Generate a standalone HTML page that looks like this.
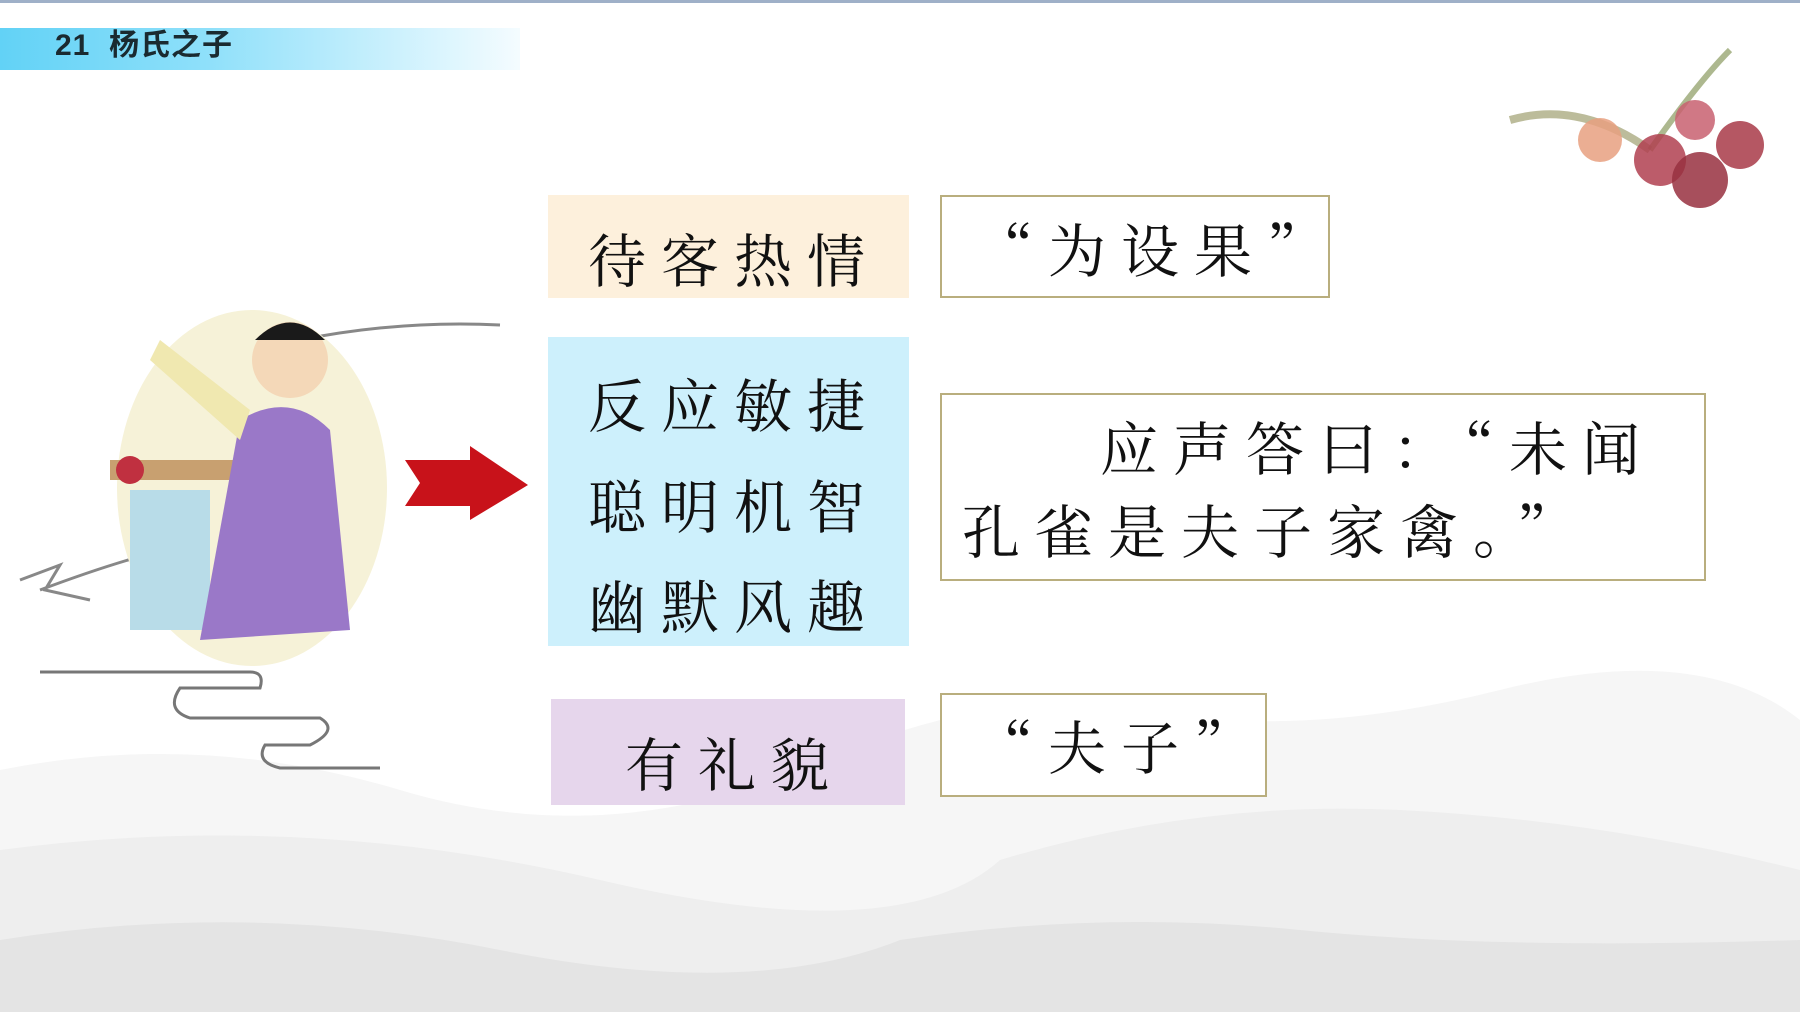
<!DOCTYPE html>
<html><head><meta charset="utf-8"><style>
body{margin:0}
#c{position:relative;width:1800px;height:1012px;overflow:hidden;background:#fff;font-family:"Noto Serif CJK SC","Liberation Serif",serif}
.b{position:absolute;box-sizing:border-box}
.t{position:absolute;white-space:nowrap;color:#111;font-size:58px;letter-spacing:15px;line-height:1}
.q{border:2px solid #b9ae7e;background:#fff}
</style></head><body><div id="c">
<div class="b" style="left:0;top:0;width:1800px;height:3px;background:#9fb0c8"></div>
<div class="b" style="left:0;top:28px;width:520px;height:42px;background:linear-gradient(90deg,#62d2f6 0%,#8fe0fa 40%,rgba(220,245,255,0.3) 100%)"></div>
<div class="t" style="left:55px;top:31px;font-size:30px;letter-spacing:1px;font-weight:bold;font-family:'Liberation Sans','Noto Sans CJK SC',sans-serif;color:#1a2a30">21&nbsp;&nbsp;杨氏之子</div>
<svg class="b" style="left:0;top:620px" width="1800" height="392">
<path d="M0 150 Q200 110 400 170 T800 150 Q1000 60 1150 90 T1500 70 T1800 100 V392 H0Z" fill="#f6f6f6"/>
<path d="M0 230 Q300 190 600 260 T1000 240 Q1200 180 1400 190 T1800 250 V392 H0Z" fill="#eeeeee"/>
<path d="M0 320 Q250 280 500 330 T900 320 Q1100 290 1300 310 T1800 320 V392 H0Z" fill="#e4e4e4"/>
</svg>
<svg class="b" style="left:1500px;top:40px" width="300" height="180">
<path d="M10 80 Q80 60 150 110" stroke="#a0a070" stroke-width="8" fill="none" opacity="0.7"/>
<path d="M150 110 Q200 40 230 10" stroke="#8a9a60" stroke-width="6" fill="none" opacity="0.7"/>
<circle cx="100" cy="100" r="22" fill="#e8a080" opacity="0.85"/>
<circle cx="160" cy="120" r="26" fill="#b04050" opacity="0.85"/>
<circle cx="200" cy="140" r="28" fill="#983040" opacity="0.85"/>
<circle cx="240" cy="105" r="24" fill="#a83a48" opacity="0.85"/>
<circle cx="195" cy="80" r="20" fill="#c86070" opacity="0.85"/>
</svg>
<svg class="b" style="left:0;top:300px" width="560" height="480">
<path d="M20 280 L60 265 L45 290 L90 300 M40 290 Q200 230 260 240 M300 40 Q400 20 500 25" stroke="#888" stroke-width="3" fill="none"/>
<ellipse cx="252" cy="188" rx="135" ry="178" fill="#f6f2d8"/>
<rect x="110" y="160" width="130" height="20" fill="#c8a070"/>
<rect x="130" y="190" width="80" height="140" fill="#b8dce8"/>
<path d="M240 120 Q290 90 330 130 L350 330 L200 340 Z" fill="#9a78c8"/>
<circle cx="290" cy="60" r="38" fill="#f4d8b8"/>
<path d="M255 40 Q290 5 325 40" fill="#1a1a1a"/>
<path d="M160 40 L250 110 L240 140 L150 60Z" fill="#f0e8b0"/>
<circle cx="130" cy="170" r="14" fill="#c03040"/>
<path d="M40 372 H250 Q265 372 260 388 H180 Q165 410 190 418 H320 Q340 430 310 445 H265 Q255 462 280 468 H380" stroke="#777" stroke-width="3" fill="none"/>
<path d="M405 460 L470 460 L470 446 L528 485 L470 520 L470 506 L405 506 L420 483Z" transform="translate(0,-300)" fill="#c8121a"/>
</svg>
<div class="b" style="left:548px;top:195px;width:361px;height:103px;background:#fdf0dc"></div>
<div class="t" style="left:588px;top:228px">待客热情</div>
<div class="b q" style="left:940px;top:195px;width:390px;height:103px"></div>
<div class="t" style="left:975px;top:218px">“为设果”</div>
<div class="b" style="left:548px;top:337px;width:361px;height:309px;background:#cdf0fc"></div>
<div class="t" style="left:588px;top:373px">反应敏捷</div>
<div class="t" style="left:588px;top:474px">聪明机智</div>
<div class="t" style="left:588px;top:574px">幽默风趣</div>
<div class="b q" style="left:940px;top:393px;width:766px;height:188px"></div>
<div class="t" style="left:1100px;top:416px">应声答曰：“未闻</div>
<div class="t" style="left:962px;top:499px">孔雀是夫子家禽。”</div>
<div class="b" style="left:551px;top:699px;width:354px;height:106px;background:#e6d6ec"></div>
<div class="t" style="left:625px;top:732px">有礼貌</div>
<div class="b q" style="left:940px;top:693px;width:327px;height:104px"></div>
<div class="t" style="left:975px;top:715px">“夫子”</div>
</div></body></html>
